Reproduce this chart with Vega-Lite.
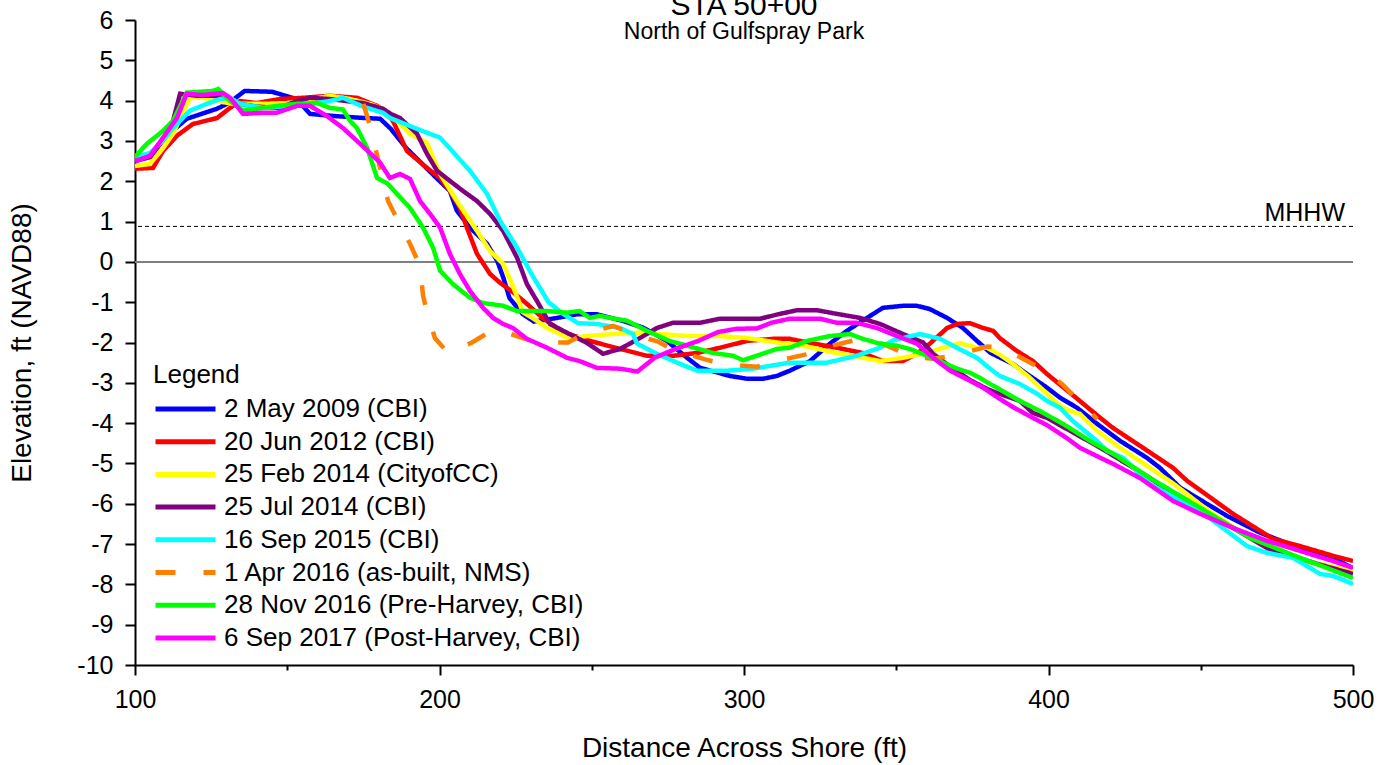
{
"$schema": "https://vega.github.io/schema/vega-lite/v6.json",
"width": 1218, "height": 645,
"autosize": {"type": "none"},
"padding": {"left": 135, "top": 20, "right": 41, "bottom": 100},
"background": "white",
"title": {"text": "STA 50+00", "subtitle": "North of Gulfspray Park", "fontSize": 30, "subtitleFontSize": 23, "font": "Liberation Sans", "subtitleFont": "Liberation Sans", "fontWeight": "normal", "anchor": "middle", "frame": "group", "offset": -36, "subtitlePadding": 0, "color": "black", "subtitleColor": "black"},
"config": {
  "view": {"stroke": null},
  "axis": {"labelFont": "Liberation Sans", "titleFont": "Liberation Sans", "labelFontSize": 25, "titleFontSize": 28, "titleFontWeight": "normal", "labelColor": "black", "titleColor": "black", "domainColor": "black", "domainWidth": 2, "tickColor": "black", "tickWidth": 2, "grid": false, "labelFlush": false, "labelOverlap": false},
  "legend": {"orient": "none", "legendX": 18, "legendY": 342, "titleFont": "Liberation Sans", "titleFontSize": 26, "titleFontWeight": "normal", "titleColor": "black", "titlePadding": 5, "labelFont": "Liberation Sans", "labelFontSize": 26, "labelColor": "black", "labelLimit": 0, "labelOffset": 6, "symbolType": "stroke", "symbolSize": 3600, "symbolStrokeWidth": 5, "clipHeight": 32, "rowPadding": 0.7}
},
"datasets": {
  "series": [
    {"k": 1, "name": "2 May 2009 (CBI)"},
    {"k": 2, "name": "20 Jun 2012 (CBI)"},
    {"k": 3, "name": "25 Feb 2014 (CityofCC)"},
    {"k": 4, "name": "25 Jul 2014 (CBI)"},
    {"k": 5, "name": "16 Sep 2015 (CBI)"},
    {"k": 6, "name": "1 Apr 2016 (as-built, NMS)"},
    {"k": 7, "name": "28 Nov 2016 (Pre-Harvey, CBI)"},
    {"k": 8, "name": "6 Sep 2017 (Post-Harvey, CBI)"}
  ],
  "profiles": [
{"k":1,"x":100,"y":2.5},{"k":1,"x":105,"y":2.65},{"k":1,"x":110,"y":3.1},{"k":1,"x":117,"y":3.55},{"k":1,"x":127,"y":3.8},{"k":1,"x":131,"y":3.95},{"k":1,"x":136,"y":4.24},{"k":1,"x":145,"y":4.22},{"k":1,"x":153,"y":4.04},{"k":1,"x":157.5,"y":3.67},{"k":1,"x":165,"y":3.62},{"k":1,"x":175,"y":3.57},{"k":1,"x":180.5,"y":3.55},{"k":1,"x":184,"y":3.3},{"k":1,"x":189,"y":2.83},{"k":1,"x":199,"y":2.08},{"k":1,"x":203.4,"y":1.76},{"k":1,"x":205.7,"y":1.27},{"k":1,"x":210,"y":0.85},{"k":1,"x":215.6,"y":0.45},{"k":1,"x":219,"y":0.02},{"k":1,"x":221,"y":-0.4},{"k":1,"x":223,"y":-0.9},{"k":1,"x":227.4,"y":-1.3},{"k":1,"x":231,"y":-1.48},{"k":1,"x":238.6,"y":-1.39},{"k":1,"x":245,"y":-1.3},{"k":1,"x":251.7,"y":-1.3},{"k":1,"x":260,"y":-1.46},{"k":1,"x":266.8,"y":-1.63},{"k":1,"x":274.7,"y":-1.96},{"k":1,"x":281.3,"y":-2.38},{"k":1,"x":285.6,"y":-2.63},{"k":1,"x":295.4,"y":-2.83},{"k":1,"x":301,"y":-2.9},{"k":1,"x":306.2,"y":-2.9},{"k":1,"x":310.8,"y":-2.83},{"k":1,"x":315,"y":-2.7},{"k":1,"x":321.7,"y":-2.46},{"k":1,"x":328.2,"y":-2.03},{"k":1,"x":333.8,"y":-1.71},{"k":1,"x":340.4,"y":-1.39},{"k":1,"x":345.6,"y":-1.14},{"k":1,"x":352.2,"y":-1.09},{"k":1,"x":356.8,"y":-1.09},{"k":1,"x":361,"y":-1.17},{"k":1,"x":366.7,"y":-1.39},{"k":1,"x":371.9,"y":-1.64},{"k":1,"x":376.5,"y":-1.96},{"k":1,"x":381,"y":-2.26},{"k":1,"x":388.3,"y":-2.53},{"k":1,"x":392.9,"y":-2.78},{"k":1,"x":399.5,"y":-3.12},{"k":1,"x":403.8,"y":-3.37},{"k":1,"x":409.4,"y":-3.62},{"k":1,"x":416,"y":-4.02},{"k":1,"x":423.5,"y":-4.44},{"k":1,"x":432.3,"y":-4.86},{"k":1,"x":436.6,"y":-5.11},{"k":1,"x":443.2,"y":-5.6},{"k":1,"x":452,"y":-6.0},{"k":1,"x":458.6,"y":-6.3},{"k":1,"x":469.5,"y":-6.72},{"k":1,"x":482.6,"y":-7.1},{"k":1,"x":493.4,"y":-7.34},{"k":1,"x":500,"y":-7.6},
{"k":2,"x":100,"y":2.31},{"k":2,"x":105.9,"y":2.33},{"k":2,"x":109.2,"y":2.75},{"k":2,"x":113.8,"y":3.13},{"k":2,"x":119,"y":3.42},{"k":2,"x":127,"y":3.57},{"k":2,"x":131.2,"y":3.82},{"k":2,"x":134.5,"y":3.99},{"k":2,"x":140,"y":3.94},{"k":2,"x":147.6,"y":4.04},{"k":2,"x":155.2,"y":4.07},{"k":2,"x":164,"y":4.12},{"k":2,"x":172.9,"y":4.07},{"k":2,"x":179.5,"y":3.87},{"k":2,"x":183,"y":3.7},{"k":2,"x":185,"y":3.45},{"k":2,"x":189.3,"y":2.75},{"k":2,"x":195.9,"y":2.33},{"k":2,"x":200.2,"y":2.08},{"k":2,"x":203.4,"y":1.76},{"k":2,"x":206.7,"y":1.34},{"k":2,"x":209,"y":0.85},{"k":2,"x":212.3,"y":0.2},{"k":2,"x":216.6,"y":-0.3},{"k":2,"x":219.9,"y":-0.52},{"k":2,"x":224.1,"y":-0.75},{"k":2,"x":228.7,"y":-1.04},{"k":2,"x":234,"y":-1.4},{"k":2,"x":238.6,"y":-1.64},{"k":2,"x":242,"y":-1.78},{"k":2,"x":249.4,"y":-1.96},{"k":2,"x":259.3,"y":-2.16},{"k":2,"x":268.1,"y":-2.33},{"k":2,"x":276.7,"y":-2.33},{"k":2,"x":284.6,"y":-2.26},{"k":2,"x":292.1,"y":-2.13},{"k":2,"x":301,"y":-1.96},{"k":2,"x":309.5,"y":-1.91},{"k":2,"x":315,"y":-1.91},{"k":2,"x":321.7,"y":-2.01},{"k":2,"x":330.5,"y":-2.13},{"k":2,"x":339,"y":-2.26},{"k":2,"x":345.6,"y":-2.46},{"k":2,"x":352.2,"y":-2.46},{"k":2,"x":356.8,"y":-2.28},{"k":2,"x":361,"y":-2.03},{"k":2,"x":366.7,"y":-1.64},{"k":2,"x":370,"y":-1.54},{"k":2,"x":374.2,"y":-1.52},{"k":2,"x":378.5,"y":-1.64},{"k":2,"x":381.8,"y":-1.71},{"k":2,"x":384,"y":-1.89},{"k":2,"x":389.6,"y":-2.21},{"k":2,"x":394.9,"y":-2.46},{"k":2,"x":399.5,"y":-2.78},{"k":2,"x":410.3,"y":-3.45},{"k":2,"x":417,"y":-3.87},{"k":2,"x":421.2,"y":-4.12},{"k":2,"x":431,"y":-4.61},{"k":2,"x":440.9,"y":-5.11},{"k":2,"x":445.5,"y":-5.43},{"k":2,"x":460.6,"y":-6.25},{"k":2,"x":473.7,"y":-6.87},{"k":2,"x":482.6,"y":-7.05},{"k":2,"x":493.4,"y":-7.29},{"k":2,"x":500,"y":-7.42},
{"k":3,"x":100,"y":2.38},{"k":3,"x":104.9,"y":2.43},{"k":3,"x":109,"y":2.8},{"k":3,"x":112.5,"y":3.18},{"k":3,"x":118,"y":4.07},{"k":3,"x":122.3,"y":4.07},{"k":3,"x":127,"y":3.99},{"k":3,"x":132.2,"y":3.92},{"k":3,"x":142,"y":3.92},{"k":3,"x":150.9,"y":3.94},{"k":3,"x":158.5,"y":4.04},{"k":3,"x":164,"y":4.12},{"k":3,"x":170.6,"y":4.04},{"k":3,"x":177.2,"y":3.92},{"k":3,"x":180.5,"y":3.82},{"k":3,"x":183.7,"y":3.62},{"k":3,"x":186,"y":3.5},{"k":3,"x":190.3,"y":3.18},{"k":3,"x":195.9,"y":2.95},{"k":3,"x":200.2,"y":2.18},{"k":3,"x":205.7,"y":1.51},{"k":3,"x":212.3,"y":0.77},{"k":3,"x":216.6,"y":0.27},{"k":3,"x":220.9,"y":-0.05},{"k":3,"x":224.1,"y":-0.6},{"k":3,"x":227.4,"y":-1.25},{"k":3,"x":232,"y":-1.46},{"k":3,"x":235.3,"y":-1.64},{"k":3,"x":238.6,"y":-1.75},{"k":3,"x":242.5,"y":-1.9},{"k":3,"x":248.4,"y":-1.84},{"k":3,"x":257,"y":-1.79},{"k":3,"x":264.9,"y":-1.76},{"k":3,"x":272.4,"y":-1.79},{"k":3,"x":281.3,"y":-1.84},{"k":3,"x":292.1,"y":-1.84},{"k":3,"x":301,"y":-1.89},{"k":3,"x":311.8,"y":-2.01},{"k":3,"x":319.4,"y":-2.08},{"k":3,"x":330.5,"y":-2.26},{"k":3,"x":339,"y":-2.38},{"k":3,"x":344.7,"y":-2.46},{"k":3,"x":352.2,"y":-2.38},{"k":3,"x":360.1,"y":-2.26},{"k":3,"x":365.4,"y":-2.13},{"k":3,"x":370.9,"y":-2.02},{"k":3,"x":376.5,"y":-2.13},{"k":3,"x":379.8,"y":-2.13},{"k":3,"x":384,"y":-2.3},{"k":3,"x":388.3,"y":-2.53},{"k":3,"x":393.5,"y":-2.85},{"k":3,"x":399.5,"y":-3.27},{"k":3,"x":402.8,"y":-3.5},{"k":3,"x":404.8,"y":-3.62},{"k":3,"x":408,"y":-3.72},{"k":3,"x":410.3,"y":-3.77},{"k":3,"x":415.9,"y":-4.19},{"k":3,"x":423.5,"y":-4.61},{"k":3,"x":430,"y":-4.94},{"k":3,"x":441,"y":-5.5},{"k":3,"x":453,"y":-6.2},{"k":3,"x":466.2,"y":-6.85},{"k":3,"x":482.6,"y":-7.42},{"k":3,"x":489.2,"y":-7.49},{"k":3,"x":500,"y":-7.67},
{"k":4,"x":100,"y":2.5},{"k":4,"x":105,"y":2.6},{"k":4,"x":110,"y":3.1},{"k":4,"x":112.5,"y":3.5},{"k":4,"x":114.8,"y":4.17},{"k":4,"x":120.4,"y":4.12},{"k":4,"x":125.6,"y":4.12},{"k":4,"x":130.2,"y":4.07},{"k":4,"x":134.5,"y":3.92},{"k":4,"x":140,"y":3.85},{"k":4,"x":147.6,"y":3.82},{"k":4,"x":153.2,"y":3.99},{"k":4,"x":157.5,"y":4.07},{"k":4,"x":164,"y":4.04},{"k":4,"x":174.9,"y":3.94},{"k":4,"x":181.4,"y":3.8},{"k":4,"x":184,"y":3.67},{"k":4,"x":187,"y":3.57},{"k":4,"x":192.6,"y":3.18},{"k":4,"x":195.9,"y":2.68},{"k":4,"x":199.2,"y":2.26},{"k":4,"x":203.4,"y":2.01},{"k":4,"x":207.7,"y":1.76},{"k":4,"x":212.3,"y":1.51},{"k":4,"x":216.6,"y":1.19},{"k":4,"x":220.9,"y":0.77},{"k":4,"x":225.5,"y":0.1},{"k":4,"x":228.7,"y":-0.55},{"k":4,"x":232,"y":-0.97},{"k":4,"x":236.3,"y":-1.54},{"k":4,"x":241.9,"y":-1.76},{"k":4,"x":248.4,"y":-2.01},{"k":4,"x":253.7,"y":-2.28},{"k":4,"x":259.3,"y":-2.16},{"k":4,"x":265.8,"y":-1.89},{"k":4,"x":271.4,"y":-1.64},{"k":4,"x":276.7,"y":-1.51},{"k":4,"x":285.6,"y":-1.51},{"k":4,"x":292.1,"y":-1.41},{"k":4,"x":305.3,"y":-1.41},{"k":4,"x":311.8,"y":-1.29},{"k":4,"x":317.4,"y":-1.2},{"k":4,"x":324,"y":-1.2},{"k":4,"x":330.5,"y":-1.29},{"k":4,"x":338.1,"y":-1.39},{"k":4,"x":344.7,"y":-1.54},{"k":4,"x":352.2,"y":-1.79},{"k":4,"x":358.8,"y":-2.0},{"k":4,"x":362.1,"y":-2.28},{"k":4,"x":367.7,"y":-2.6},{"k":4,"x":374.2,"y":-2.93},{"k":4,"x":379.8,"y":-3.15},{"k":4,"x":383,"y":-3.25},{"k":4,"x":390.6,"y":-3.45},{"k":4,"x":394.9,"y":-3.75},{"k":4,"x":399.5,"y":-3.87},{"k":4,"x":417,"y":-4.61},{"k":4,"x":433.3,"y":-5.36},{"k":4,"x":447.5,"y":-6.1},{"k":4,"x":460.6,"y":-6.6},{"k":4,"x":471.8,"y":-7.1},{"k":4,"x":488.2,"y":-7.49},{"k":4,"x":500,"y":-7.74},
{"k":5,"x":100,"y":2.6},{"k":5,"x":105,"y":2.7},{"k":5,"x":109,"y":3.0},{"k":5,"x":112.5,"y":3.32},{"k":5,"x":118,"y":3.75},{"k":5,"x":123.6,"y":3.92},{"k":5,"x":127.9,"y":4.04},{"k":5,"x":131.2,"y":4.07},{"k":5,"x":134.5,"y":3.92},{"k":5,"x":142,"y":3.82},{"k":5,"x":150.9,"y":3.87},{"k":5,"x":157.5,"y":3.92},{"k":5,"x":164,"y":3.99},{"k":5,"x":168.3,"y":4.07},{"k":5,"x":174.9,"y":3.85},{"k":5,"x":181.4,"y":3.7},{"k":5,"x":183.7,"y":3.57},{"k":5,"x":192.6,"y":3.3},{"k":5,"x":200.2,"y":3.08},{"k":5,"x":210,"y":2.26},{"k":5,"x":215.6,"y":1.69},{"k":5,"x":219.9,"y":1.02},{"k":5,"x":225.5,"y":0.35},{"k":5,"x":230.2,"y":-0.3},{"k":5,"x":235.8,"y":-1.0},{"k":5,"x":240.6,"y":-1.29},{"k":5,"x":245.5,"y":-1.52},{"k":5,"x":251.7,"y":-1.54},{"k":5,"x":259.3,"y":-1.64},{"k":5,"x":263.5,"y":-1.79},{"k":5,"x":264.9,"y":-2.03},{"k":5,"x":271.4,"y":-2.28},{"k":5,"x":279,"y":-2.53},{"k":5,"x":284.6,"y":-2.7},{"k":5,"x":294.4,"y":-2.7},{"k":5,"x":303,"y":-2.65},{"k":5,"x":308.5,"y":-2.58},{"k":5,"x":315,"y":-2.5},{"k":5,"x":327.2,"y":-2.5},{"k":5,"x":337,"y":-2.33},{"k":5,"x":344.7,"y":-2.13},{"k":5,"x":348.9,"y":-1.95},{"k":5,"x":352.2,"y":-1.89},{"k":5,"x":357.8,"y":-1.79},{"k":5,"x":364.4,"y":-1.91},{"k":5,"x":370.9,"y":-2.17},{"k":5,"x":376.5,"y":-2.38},{"k":5,"x":380.8,"y":-2.65},{"k":5,"x":384,"y":-2.83},{"k":5,"x":390.6,"y":-3.03},{"k":5,"x":396.2,"y":-3.27},{"k":5,"x":399.5,"y":-3.45},{"k":5,"x":403.8,"y":-3.62},{"k":5,"x":408,"y":-3.95},{"k":5,"x":415.9,"y":-4.44},{"k":5,"x":419.2,"y":-4.69},{"k":5,"x":424.5,"y":-4.86},{"k":5,"x":433.3,"y":-5.51},{"k":5,"x":449.8,"y":-6.18},{"k":5,"x":465.2,"y":-7.05},{"k":5,"x":471.8,"y":-7.22},{"k":5,"x":480.3,"y":-7.34},{"k":5,"x":489.2,"y":-7.74},{"k":5,"x":493.4,"y":-7.79},{"k":5,"x":500,"y":-7.99},
{"k":6,"x":175,"y":3.92},{"k":6,"x":177.2,"y":3.37},{"k":6,"x":183.1,"y":1.51},{"k":6,"x":186,"y":1.07},{"k":6,"x":190.3,"y":0.45},{"k":6,"x":193.6,"y":-0.1},{"k":6,"x":194.6,"y":-0.84},{"k":6,"x":196.2,"y":-1.34},{"k":6,"x":198.5,"y":-1.89},{"k":6,"x":202.8,"y":-2.26},{"k":6,"x":210.7,"y":-2.0},{"k":6,"x":215.9,"y":-1.76},{"k":6,"x":219,"y":-1.68},{"k":6,"x":227.4,"y":-1.89},{"k":6,"x":232.3,"y":-2.0},{"k":6,"x":242.2,"y":-2.0},{"k":6,"x":247.8,"y":-1.78},{"k":6,"x":257,"y":-1.59},{"k":6,"x":263.5,"y":-1.79},{"k":6,"x":271.8,"y":-1.98},{"k":6,"x":276.7,"y":-2.18},{"k":6,"x":287.8,"y":-2.43},{"k":6,"x":294.4,"y":-2.55},{"k":6,"x":304.3,"y":-2.6},{"k":6,"x":310.8,"y":-2.46},{"k":6,"x":320,"y":-2.3},{"k":6,"x":326.5,"y":-2.12},{"k":6,"x":336,"y":-1.95},{"k":6,"x":343,"y":-1.95},{"k":6,"x":355,"y":-2.35},{"k":6,"x":362,"y":-2.4},{"k":6,"x":368.6,"y":-2.33},{"k":6,"x":375,"y":-2.2},{"k":6,"x":380,"y":-2.1},{"k":6,"x":385,"y":-2.13},{"k":6,"x":391,"y":-2.38},{"k":6,"x":398.9,"y":-2.7},{"k":6,"x":404.4,"y":-3.03},{"k":6,"x":411,"y":-3.52},{"k":6,"x":416,"y":-3.9},
{"k":7,"x":100,"y":2.6},{"k":7,"x":103.9,"y":2.93},{"k":7,"x":109.2,"y":3.25},{"k":7,"x":112.5,"y":3.5},{"k":7,"x":117,"y":4.2},{"k":7,"x":125.6,"y":4.24},{"k":7,"x":127.3,"y":4.29},{"k":7,"x":131.2,"y":3.99},{"k":7,"x":135.5,"y":3.75},{"k":7,"x":142,"y":3.82},{"k":7,"x":146.6,"y":3.87},{"k":7,"x":153.2,"y":3.92},{"k":7,"x":159.8,"y":3.94},{"k":7,"x":164,"y":3.82},{"k":7,"x":168.3,"y":3.78},{"k":7,"x":170.6,"y":3.5},{"k":7,"x":172.9,"y":3.32},{"k":7,"x":176.2,"y":2.83},{"k":7,"x":179.5,"y":2.08},{"k":7,"x":183,"y":1.94},{"k":7,"x":186,"y":1.69},{"k":7,"x":190.3,"y":1.34},{"k":7,"x":194.6,"y":0.85},{"k":7,"x":197.9,"y":0.35},{"k":7,"x":200.2,"y":-0.22},{"k":7,"x":204.4,"y":-0.55},{"k":7,"x":210,"y":-0.89},{"k":7,"x":214.3,"y":-1.02},{"k":7,"x":220.9,"y":-1.09},{"k":7,"x":225.5,"y":-1.22},{"k":7,"x":235.3,"y":-1.22},{"k":7,"x":241.9,"y":-1.26},{"k":7,"x":246,"y":-1.22},{"k":7,"x":249.4,"y":-1.39},{"k":7,"x":252.7,"y":-1.34},{"k":7,"x":256,"y":-1.39},{"k":7,"x":261.6,"y":-1.46},{"k":7,"x":268.1,"y":-1.71},{"k":7,"x":275.5,"y":-1.96},{"k":7,"x":281.3,"y":-2.08},{"k":7,"x":289.8,"y":-2.26},{"k":7,"x":296.4,"y":-2.33},{"k":7,"x":299.7,"y":-2.44},{"k":7,"x":305.3,"y":-2.3},{"k":7,"x":310.8,"y":-2.16},{"k":7,"x":315,"y":-2.13},{"k":7,"x":320.7,"y":-1.96},{"k":7,"x":328.2,"y":-1.84},{"k":7,"x":334.8,"y":-1.79},{"k":7,"x":339,"y":-1.91},{"k":7,"x":344.7,"y":-2.03},{"k":7,"x":350.2,"y":-2.08},{"k":7,"x":354.5,"y":-2.16},{"k":7,"x":360.1,"y":-2.33},{"k":7,"x":365.4,"y":-2.5},{"k":7,"x":370,"y":-2.65},{"k":7,"x":374.2,"y":-2.75},{"k":7,"x":377.5,"y":-2.88},{"k":7,"x":380.8,"y":-3.03},{"k":7,"x":383,"y":-3.12},{"k":7,"x":390.6,"y":-3.45},{"k":7,"x":397.2,"y":-3.7},{"k":7,"x":404.8,"y":-4.02},{"k":7,"x":413.6,"y":-4.44},{"k":7,"x":421.2,"y":-4.76},{"k":7,"x":433.3,"y":-5.36},{"k":7,"x":449.8,"y":-6.1},{"k":7,"x":466.2,"y":-6.85},{"k":7,"x":482.6,"y":-7.34},{"k":7,"x":500,"y":-7.84},
{"k":8,"x":100,"y":2.5},{"k":8,"x":104.9,"y":2.63},{"k":8,"x":109.2,"y":3.08},{"k":8,"x":113.8,"y":3.57},{"k":8,"x":117,"y":4.17},{"k":8,"x":122.3,"y":4.14},{"k":8,"x":128.9,"y":4.19},{"k":8,"x":131.2,"y":4.07},{"k":8,"x":135.5,"y":3.67},{"k":8,"x":142,"y":3.7},{"k":8,"x":146.6,"y":3.7},{"k":8,"x":153.2,"y":3.87},{"k":8,"x":157.5,"y":3.87},{"k":8,"x":163,"y":3.62},{"k":8,"x":168.3,"y":3.32},{"k":8,"x":172.9,"y":3.0},{"k":8,"x":177.2,"y":2.7},{"k":8,"x":180.5,"y":2.46},{"k":8,"x":183.7,"y":2.08},{"k":8,"x":187,"y":2.18},{"k":8,"x":190.3,"y":2.06},{"k":8,"x":193.6,"y":1.51},{"k":8,"x":196.9,"y":1.19},{"k":8,"x":200.2,"y":0.85},{"k":8,"x":203.4,"y":0.2},{"k":8,"x":206.7,"y":-0.3},{"k":8,"x":210,"y":-0.72},{"k":8,"x":214.3,"y":-1.14},{"k":8,"x":217.6,"y":-1.39},{"k":8,"x":220.9,"y":-1.54},{"k":8,"x":224.1,"y":-1.64},{"k":8,"x":228.7,"y":-1.91},{"k":8,"x":235.3,"y":-2.13},{"k":8,"x":241.9,"y":-2.38},{"k":8,"x":246,"y":-2.46},{"k":8,"x":251.7,"y":-2.63},{"k":8,"x":259.3,"y":-2.65},{"k":8,"x":265,"y":-2.72},{"k":8,"x":270.6,"y":-2.38},{"k":8,"x":277.8,"y":-2.15},{"k":8,"x":285,"y":-1.96},{"k":8,"x":291.5,"y":-1.74},{"k":8,"x":297.5,"y":-1.66},{"k":8,"x":304.3,"y":-1.65},{"k":8,"x":309,"y":-1.51},{"k":8,"x":315,"y":-1.41},{"k":8,"x":325,"y":-1.41},{"k":8,"x":330.5,"y":-1.51},{"k":8,"x":337,"y":-1.51},{"k":8,"x":343.7,"y":-1.64},{"k":8,"x":350.2,"y":-1.84},{"k":8,"x":356.8,"y":-2.03},{"k":8,"x":362.1,"y":-2.38},{"k":8,"x":367.7,"y":-2.7},{"k":8,"x":374.2,"y":-2.95},{"k":8,"x":378.5,"y":-3.12},{"k":8,"x":384,"y":-3.4},{"k":8,"x":388.3,"y":-3.6},{"k":8,"x":394.9,"y":-3.87},{"k":8,"x":399.5,"y":-4.05},{"k":8,"x":406,"y":-4.37},{"k":8,"x":410.3,"y":-4.61},{"k":8,"x":417,"y":-4.86},{"k":8,"x":421.2,"y":-5.01},{"k":8,"x":430,"y":-5.36},{"k":8,"x":440.9,"y":-5.93},{"k":8,"x":449.8,"y":-6.25},{"k":8,"x":460.6,"y":-6.6},{"k":8,"x":471.8,"y":-6.92},{"k":8,"x":482.6,"y":-7.17},{"k":8,"x":493.4,"y":-7.42},{"k":8,"x":500,"y":-7.59}
  ],
  "levels": [
    {"level": "zero", "y": 0},
    {"level": "MHHW", "y": 0.88, "x": 500}
  ]
},
"layer": [
  {
    "data": {"name": "levels"},
    "transform": [{"filter": "datum.level === 'zero'"}],
    "mark": {"type": "rule", "color": "#808080", "strokeWidth": 2},
    "encoding": {"y": {"field": "y", "type": "quantitative", "scale": {"domain": [-10, 6], "nice": false}}}
  },
  {
    "data": {"name": "levels"},
    "transform": [{"filter": "datum.level === 'MHHW'"}],
    "mark": {"type": "rule", "color": "black", "strokeWidth": 1, "strokeDash": [4, 3]},
    "encoding": {"y": {"field": "y", "type": "quantitative"}}
  },
  {
    "data": {"name": "levels"},
    "transform": [{"filter": "datum.level === 'MHHW'"}],
    "mark": {"type": "text", "align": "right", "baseline": "alphabetic", "dx": -8, "dy": -5, "font": "Liberation Sans", "fontSize": 25, "color": "black"},
    "encoding": {
      "x": {"field": "x", "type": "quantitative", "scale": {"domain": [100, 500], "nice": false, "zero": false}},
      "y": {"field": "y", "type": "quantitative"},
      "text": {"field": "level"}
    }
  },
  {
    "data": {"name": "profiles"},
    "transform": [{"lookup": "k", "from": {"data": {"name": "series"}, "key": "k", "fields": ["name"]}}],
    "mark": {"type": "line", "strokeWidth": 4.5, "clip": true},
    "encoding": {
      "x": {"field": "x", "type": "quantitative", "scale": {"domain": [100, 500], "nice": false, "zero": false},
        "axis": {"title": "Distance Across Shore (ft)", "values": [100, 150, 200, 250, 300, 350, 400, 450, 500], "labelExpr": "datum.value % 100 === 0 ? toString(datum.value) : ''", "tickSize": {"condition": {"test": "datum.value % 100 === 0", "value": 10}, "value": 5}, "labelPadding": 12, "titlePadding": 22}},
      "y": {"field": "y", "type": "quantitative", "scale": {"domain": [-10, 6], "nice": false},
        "axis": {"title": "Elevation, ft (NAVD88)", "values": [-10, -9.5, -9, -8.5, -8, -7.5, -7, -6.5, -6, -5.5, -5, -4.5, -4, -3.5, -3, -2.5, -2, -1.5, -1, -0.5, 0, 0.5, 1, 1.5, 2, 2.5, 3, 3.5, 4, 4.5, 5, 5.5, 6], "labelExpr": "datum.value % 1 === 0 ? toString(datum.value) : ''", "tickSize": {"condition": {"test": "datum.value % 1 === 0", "value": 10}, "value": 5}, "labelPadding": 12, "titlePadding": 40}},
      "color": {"field": "name", "type": "nominal",
        "scale": {"domain": ["2 May 2009 (CBI)", "20 Jun 2012 (CBI)", "25 Feb 2014 (CityofCC)", "25 Jul 2014 (CBI)", "16 Sep 2015 (CBI)", "1 Apr 2016 (as-built, NMS)", "28 Nov 2016 (Pre-Harvey, CBI)", "6 Sep 2017 (Post-Harvey, CBI)"],
                  "range": ["#0000FF", "#FF0000", "#FFFF00", "#800080", "#00FFFF", "#FF8000", "#00FF00", "#FF00FF"]},
        "legend": {"title": "Legend"}},
      "strokeDash": {"field": "name", "type": "nominal",
        "scale": {"domain": ["2 May 2009 (CBI)", "20 Jun 2012 (CBI)", "25 Feb 2014 (CityofCC)", "25 Jul 2014 (CBI)", "16 Sep 2015 (CBI)", "1 Apr 2016 (as-built, NMS)", "28 Nov 2016 (Pre-Harvey, CBI)", "6 Sep 2017 (Post-Harvey, CBI)"],
                  "range": [[1, 0], [1, 0], [1, 0], [1, 0], [1, 0], [20, 28], [1, 0], [1, 0]]},
        "legend": {"title": "Legend"}}
    }
  }
]
}
